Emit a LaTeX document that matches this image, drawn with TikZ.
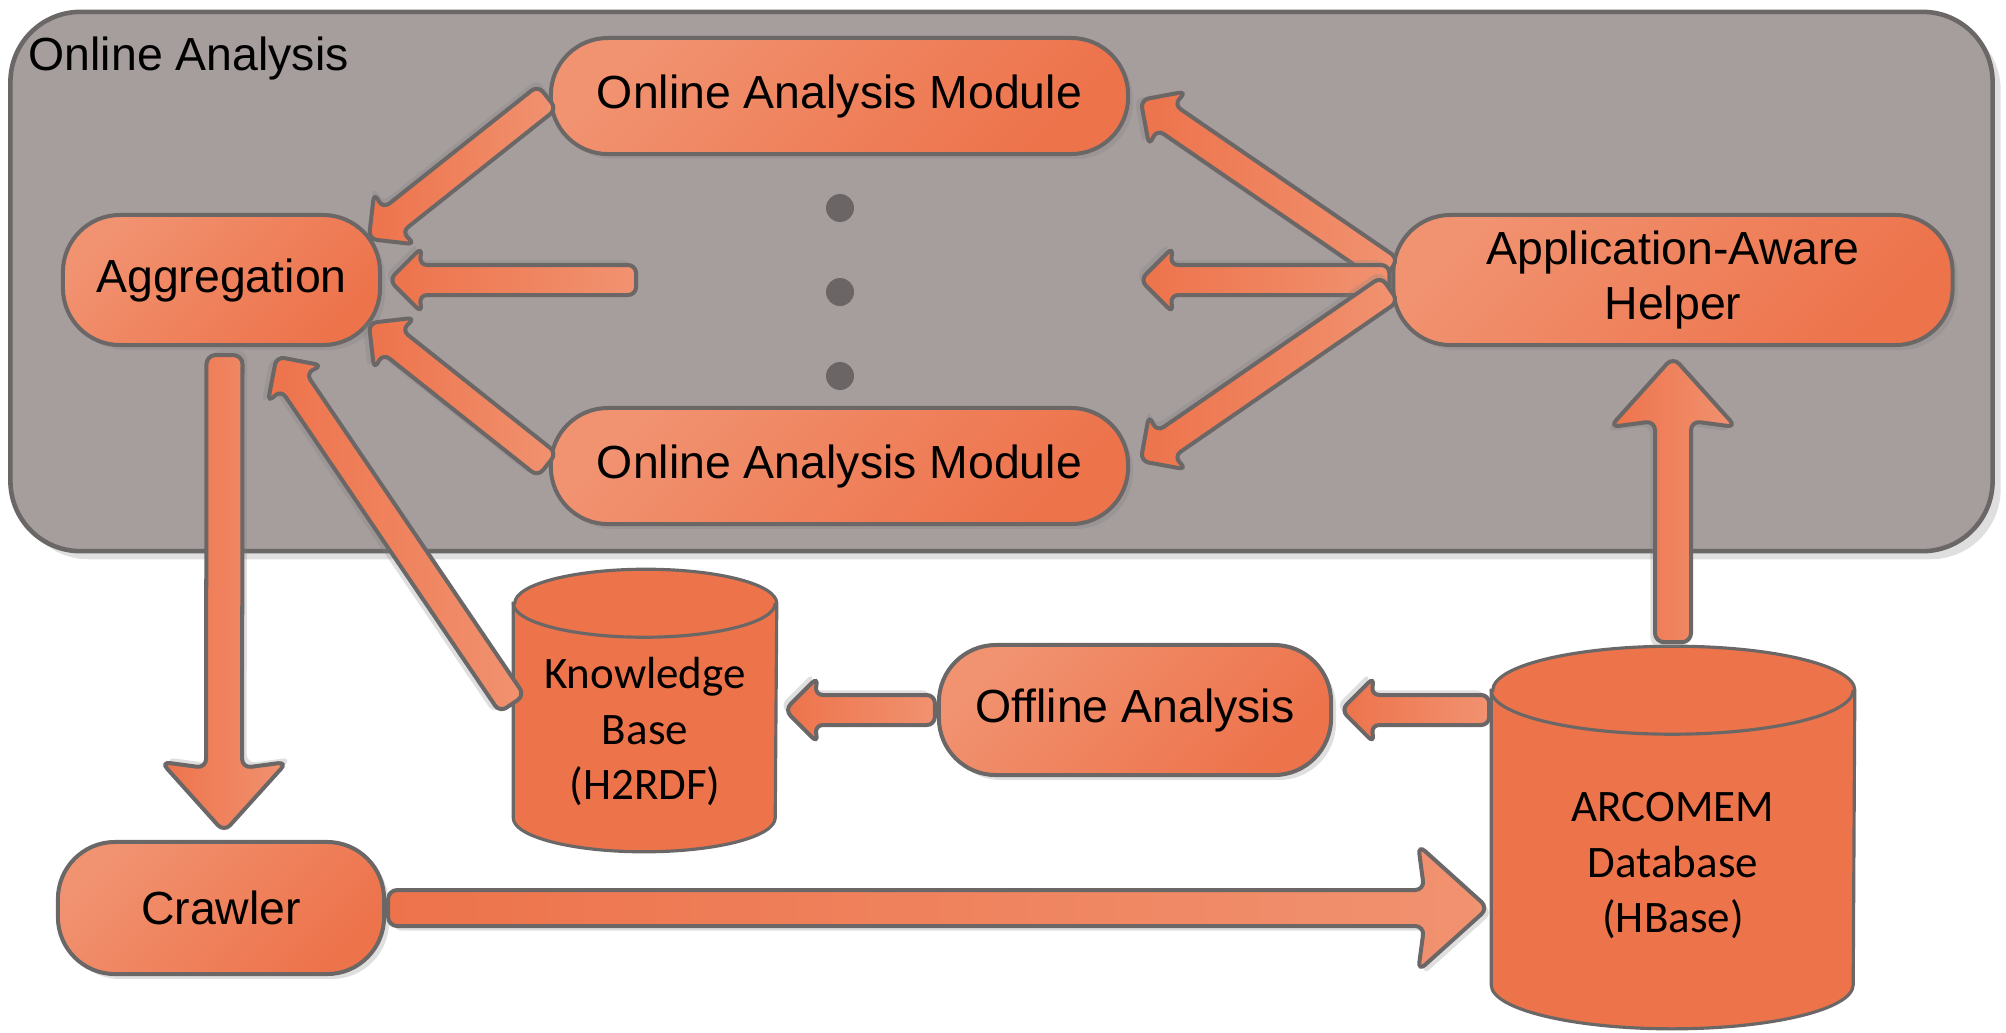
\documentclass[tikz,border=0pt]{standalone}
\usepackage{fontspec}
\setmainfont{Liberation Sans}
\newfontfamily\dbfont{Carlito}
\usepackage{tikz}
\usetikzlibrary{shapes.arrows, shadows, calc}
\usepackage{xcolor}
\definecolor{panelGray}{RGB}{166,157,157}
\definecolor{edgeGray}{RGB}{107,103,103}
\definecolor{dotGray}{RGB}{107,101,101}
\definecolor{orangeMain}{RGB}{237,115,75}
\definecolor{orangeLite}{RGB}{241,146,112}
\newcommand{\boxfont}{\fontsize{13.2pt}{15.6pt}\selectfont}
\newcommand{\dbtextfont}{\dbfont\fontsize{12.8pt}{15.9pt}\selectfont}
% block arrow from #2 (tail) to #3 (tip)
\newcommand{\blockarrow}[3][thinarrow]{%
  \path let \p{t}=(#2), \p{h}=(#3),
    \n{ang}={atan2(\y{h}-\y{t},\x{h}-\x{t})},
    \n{len}={veclen(\x{h}-\x{t},\y{h}-\y{t})},
    \n{sx}={1.3*(cos(\n{ang})-sin(\n{ang}))},
    \n{sy}={-1.3*(sin(\n{ang})+cos(\n{ang}))} in
    (\p{t}) node[#1, rotate=\n{ang}, minimum height=\n{len}, anchor=tail,
      drop shadow={opacity=0.25, shadow xshift=\n{sx}, shadow yshift=\n{sy}}] {};}
% database drum round node #1, radii #2 and #3 in px
\newcommand{\dbcylinder}[3]{%
  \draw[dbline] ($(#1.north west)+(0,#3)$) -- ($(#1.south west)+(0,-#3)$)
    arc[start angle=180, end angle=360, x radius=#2*0.01cm, y radius=#3*0.01cm]
    -- ($(#1.north east)+(0,#3)$)
    arc[start angle=0, end angle=180, x radius=#2*0.01cm, y radius=#3*0.01cm] -- cycle;
  \draw[dbline, fill=none] ($(#1.north west)+(0,#3)$)
    arc[start angle=180, end angle=360, x radius=#2*0.01cm, y radius=#3*0.01cm];}

\begin{document}
\begin{tikzpicture}[
    x=0.01cm, y=-0.01cm,
    panel/.style={rectangle, draw=edgeGray, line width=1.3pt, fill=panelGray, rounded corners=0.7cm, drop shadow={opacity=0.25, shadow xshift=2.3pt, shadow yshift=-2.3pt}},
    procbox/.style={rectangle, draw=edgeGray, line width=1.14pt, top color=orangeLite, bottom color=orangeMain, shading angle=45, rounded corners=0.57cm, align=center, font=\boxfont, inner sep=0pt, drop shadow={opacity=0.25, shadow xshift=1.4pt, shadow yshift=-1.4pt}},
    dbframe/.style={rectangle, inner sep=0pt},
    dbline/.style={draw=edgeGray, line width=0.9pt, fill=orangeMain},
    dbtext/.style={font=\dbtextfont, align=center, inner sep=0pt},
    thinarrow/.style={single arrow, draw=edgeGray, line width=1.14pt, left color=orangeMain, right color=orangeLite, rounded corners=2.3pt, inner xsep=0pt, inner ysep=0.13cm, single arrow head extend=0.18cm, single arrow head indent=0.03cm, single arrow tip angle=90},
    thickarrow/.style={thinarrow, inner ysep=0.16cm, single arrow head extend=0.45cm, single arrow head indent=0.06cm, single arrow tip angle=84, rounded corners=2.6pt},
    dotmark/.style={circle, fill=dotGray, minimum size=0.28cm, inner sep=0pt}
]
\useasboundingbox (0,0) rectangle (2006,1032);

\node[panel, minimum width=19.81cm, minimum height=5.39cm] (online) at (1001.5,281.5) {};
\node[anchor=base west, font=\boxfont, inner sep=0pt] (onlinetitle) at (28,70) {Online Analysis};

\node[procbox, minimum width=3.17cm, minimum height=1.30cm] (agg) at (221.5,280) {Aggregation};
\node[procbox, minimum width=5.77cm, minimum height=1.16cm] (oamTop) at (839.5,96) {Online Analysis Module};
\node[procbox, minimum width=5.77cm, minimum height=1.16cm] (oamBot) at (839.5,466) {Online Analysis Module};
\node[procbox, minimum width=5.59cm, minimum height=1.30cm] (aah) at (1673,280) {Application-Aware\\Helper};
\node[procbox, minimum width=3.92cm, minimum height=1.30cm] (offline) at (1135,710) {Offline Analysis};
\node[procbox, minimum width=3.26cm, minimum height=1.32cm] (crawler) at (221,908) {Crawler};

% databases
\node[dbframe, minimum width=2.62cm, minimum height=2.81cm] (kb) at (645,710.5) {};
\dbcylinder{kb}{131}{34}
\node[dbtext] (kbtext) at ($(kb.center)+(0,21)$) {Knowledge\\Base\\(H2RDF)};
\node[dbframe, minimum width=3.62cm, minimum height=3.81cm] (arcomem) at (1673,837.5) {};
\dbcylinder{arcomem}{181}{44}
\node[dbtext] (arcomemtext) at ($(arcomem.center)+(0,28)$) {ARCOMEM\\Database\\(HBase)};

\foreach \i/\y in {1/208, 2/292, 3/376}
  \node[dotmark] (dot\i) at (840,\y) {};

% arrows into Aggregation
\blockarrow{oamTop.west}{$(agg.east)+(-12,-42)$}
\coordinate (midtail) at ($(agg.east)+(256,0)$);
\blockarrow{midtail}{$(agg.east)+(9,0)$}
\blockarrow{oamBot.west}{$(agg.east)+(-12,44)$}
\blockarrow{$(kb.west)+(0,-5)$}{$(agg.south)+(56,11)$}

% crawling and storage
\blockarrow[thickarrow]{$(agg.south)+(3,6)$}{$(crawler.north)+(3,-10)$}
\blockarrow[thickarrow]{crawler.east}{$(crawler.east -| arcomem.west)+(-5,0)$}
\blockarrow{offline.west}{$(offline.west -| kb.east)+(10,0)$}
\blockarrow{offline.east -| arcomem.west}{$(offline.east)+(10,0)$}
\blockarrow[thickarrow]{$(arcomem.north)+(0,-2)$}{$(aah.south)+(0,12)$}

% helper to the modules
\blockarrow{$(aah.west)+(0,-8)$}{$(oamTop.east)+(12,5)$}
\blockarrow{aah.west}{$(aah.west -| oamTop.east)+(12,0)$}
\blockarrow{$(aah.west)+(0,8)$}{$(oamBot.east)+(12,-6)$}
\end{tikzpicture}
\end{document}
